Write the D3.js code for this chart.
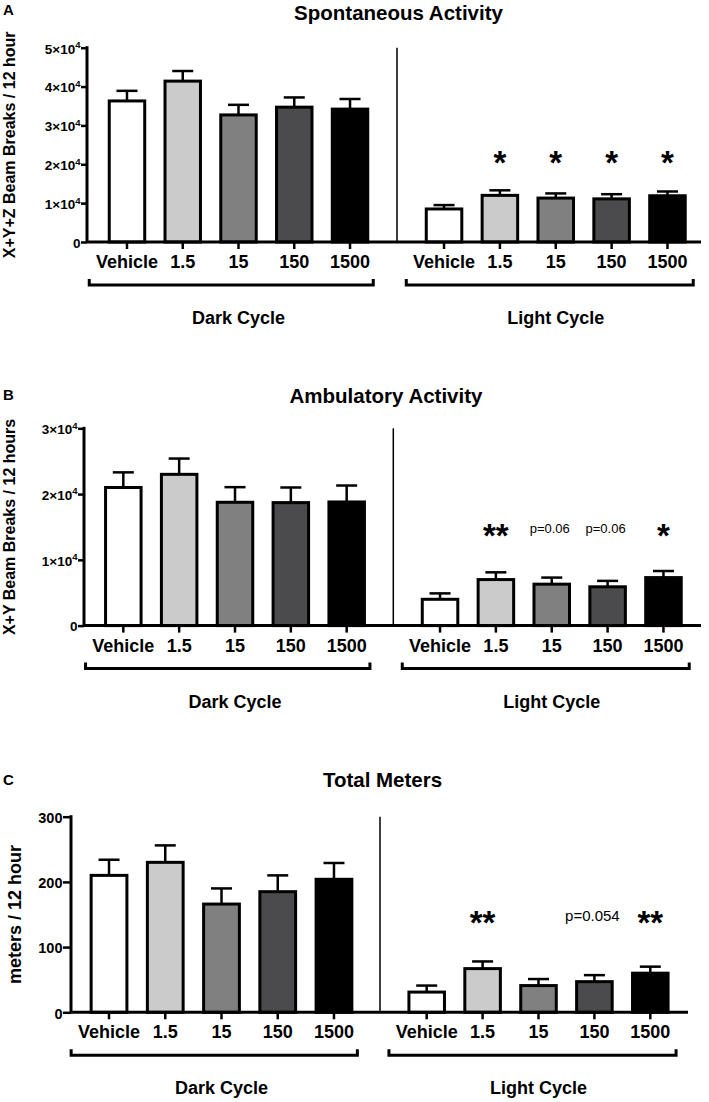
<!DOCTYPE html>
<html><head><meta charset="utf-8">
<script src="https://cdn.jsdelivr.net/npm/d3@7"></script>
<style>
body{margin:0;background:#fff;}
text{font-family:"Liberation Sans",Arial,Helvetica,sans-serif;fill:#000;}
</style></head><body>
<svg id="chart" width="709" height="1102"></svg>
<script>
// ---------- data ----------
const categories = ["Vehicle","1.5","15","150","1500"];
const cycles = ["Dark Cycle","Light Cycle"];
const panelLetters = ["A","B","C"];
const panelTitles = ["Spontaneous Activity","Ambulatory Activity","Total Meters"];
const yLabels = ["X+Y+Z Beam Breaks / 12 hour","X+Y Beam Breaks / 12 hours","meters / 12 hour"];

const spontDark = [36300,41400,32700,34700,34200];
const spontDarkSem = [2600,2600,2600,2500,2600];
const spontLight = [8500,12000,11300,11100,11900];
const spontLightSem = [1000,1300,1200,1200,1100];
const spontSig = ["","*","*","*","*"];
const spontTicks = [0,10000,20000,30000,40000,50000];

const ambDark = [21000,23000,18750,18700,18800];
const ambDarkSem = [2300,2400,2300,2300,2500];
const ambLight = [4000,7000,6300,5900,7300];
const ambLightSem = [900,1100,1000,900,1000];
const ambSig = ["","**","p=0.06","p=0.06","*"];
const ambTicks = [0,10000,20000,30000];

const metersDark = [210,230,166,185,204];
const metersDarkSem = [24,26,24,25,25];
const metersLight = [31,67,41,47,60];
const metersLightSem = [10,11,10,10,10];
const metersSig = ["","**","","p=0.054","**"];
const metersTicks = [0,100,200,300];

const sigLevels = [22300,14800,149];

// ---------- styles / layout ----------
const fills = ["#ffffff","#cbcbcb","#808080","#4b4a4c","#000000"];

const panels = [
  {dark:spontDark, darkSem:spontDarkSem, light:spontLight, lightSem:spontLightSem, sig:spontSig, ticks:spontTicks, sci:true,
   yTop:47.7, y0:242, axisX:87, axisEnd:701, darkRange:[99.1,377.9], lightRange:[416.1,695.4], sep:397,
   titleX:398.5, titleY:20, letterY:15, tickFs:13.5, tickLen:6, ylabFs:16, ylabX:15, pFs:13},
  {dark:ambDark, darkSem:ambDarkSem, light:ambLight, lightSem:ambLightSem, sig:ambSig, ticks:ambTicks, sci:true,
   yTop:428.3, y0:625.6, axisX:84, axisEnd:701, darkRange:[95.4,374.6], lightRange:[412.1,691.4], sep:393.3,
   titleX:386, titleY:403, letterY:400, tickFs:13.5, tickLen:6, ylabFs:16, ylabX:15, pFs:13},
  {dark:metersDark, darkSem:metersDarkSem, light:metersLight, lightSem:metersLightSem, sig:metersSig, ticks:metersTicks, sci:false,
   yTop:816.7, y0:1012.3, axisX:71, axisEnd:688, darkRange:[80.9,362.1], lightRange:[398.75,678.25], sep:380,
   titleX:382.5, titleY:787, letterY:785, tickFs:14.5, tickLen:8, ylabFs:18, ylabX:20.5, pFs:15}
];

const svg = d3.select("#chart");

panels.forEach((p, pi) => {
  const g = svg.append("g");
  const y = d3.scaleLinear().domain([0, d3.max(p.ticks)]).range([p.y0, p.yTop]);
  const xs = [
    d3.scaleBand().domain(categories).range(p.darkRange).paddingInner(0.364).paddingOuter(0.182),
    d3.scaleBand().domain(categories).range(p.lightRange).paddingInner(0.364).paddingOuter(0.182)
  ];
  const groups = [
    {vals:p.dark, sem:p.darkSem, sig:null},
    {vals:p.light, sem:p.lightSem, sig:p.sig}
  ];

  groups.forEach((grp, gi) => {
    const x = xs[gi];
    const rows = categories.map((c,i)=>({c, v:grp.vals[i], s:grp.sem[i], fill:fills[i], sig:grp.sig?grp.sig[i]:""}));
    // error bars (upper only)
    g.selectAll(null).data(rows).enter().append("line")
      .attr("x1", d=>x(d.c)+x.bandwidth()/2).attr("x2", d=>x(d.c)+x.bandwidth()/2)
      .attr("y1", d=>y(d.v)).attr("y2", d=>y(d.v+d.s))
      .attr("stroke","#000").attr("stroke-width",2.5);
    g.selectAll(null).data(rows).enter().append("line")
      .attr("x1", d=>x(d.c)+x.bandwidth()/2-10.5).attr("x2", d=>x(d.c)+x.bandwidth()/2+10.5)
      .attr("y1", d=>y(d.v+d.s)).attr("y2", d=>y(d.v+d.s))
      .attr("stroke","#000").attr("stroke-width",2.5);
    // bars
    g.selectAll(null).data(rows).enter().append("rect")
      .attr("x", d=>x(d.c)).attr("width", x.bandwidth())
      .attr("y", d=>y(d.v)).attr("height", d=>y(0)-y(d.v))
      .attr("fill", d=>d.fill).attr("stroke","#000").attr("stroke-width",3);
    // significance
    rows.forEach(d=>{
      if(!d.sig) return;
      const cx = x(d.c)+x.bandwidth()/2;
      const yy = y(sigLevels[pi]);
      if(d.sig.startsWith("*")){
        g.append("text").attr("x",cx).attr("y",yy+19).attr("text-anchor","middle")
          .attr("font-size",33).attr("font-weight","bold").text(d.sig);
      } else {
        g.append("text").attr("x",cx-2).attr("y",yy+p.pFs*0.36).attr("text-anchor","middle")
          .attr("font-size",p.pFs).text(d.sig);
      }
    });
    // x ticks and labels
    const ax = d3.axisBottom(x).tickSize(7).tickSizeOuter(0).tickPadding(0);
    const axg = g.append("g").attr("transform",`translate(0,${p.y0})`).call(ax);
    axg.select(".domain").remove();
    axg.selectAll(".tick line").attr("stroke","#000").attr("stroke-width",2.5);
    axg.selectAll(".tick text").attr("y",26).attr("dy",null)
      .attr("font-size",18).attr("font-weight","bold")
      .attr("font-family",'"Liberation Sans",Arial,sans-serif').attr("fill","#000");
    // bracket
    const bx0 = x(categories[0]) - 20;
    const bx1 = x(categories[categories.length-1]) + x.bandwidth() + (gi===0?5.5:8);
    g.append("path")
      .attr("d", `M${bx0},${p.y0+37}V${p.y0+43}H${bx1}V${p.y0+37}`)
      .attr("fill","none").attr("stroke","#000").attr("stroke-width",3);
    const cx = (x(categories[0]) + x(categories[categories.length-1]) + x.bandwidth())/2;
    g.append("text").attr("x",cx).attr("y",p.y0+82).attr("text-anchor","middle")
      .attr("font-size",18).attr("font-weight","bold").text(cycles[gi]);
  });

  // x axis line
  g.append("line").attr("x1",p.axisX).attr("x2",p.axisEnd).attr("y1",p.y0).attr("y2",p.y0)
    .attr("stroke","#000").attr("stroke-width",3);
  // separator
  g.append("line").attr("x1",p.sep).attr("x2",p.sep).attr("y1",p.yTop).attr("y2",p.y0)
    .attr("stroke","#000").attr("stroke-width",1.5);

  // y axis
  const ay = d3.axisLeft(y).tickValues(p.ticks).tickSize(p.tickLen).tickSizeOuter(0).tickPadding(0.5).tickFormat(()=> "");
  const ayg = g.append("g").attr("transform",`translate(${p.axisX},0)`).call(ay);
  ayg.select(".domain").attr("stroke","#000").attr("stroke-width",3)
     .attr("d",`M0,${p.yTop-1.5}V${p.y0}`);
  ayg.selectAll(".tick line").attr("stroke","#000").attr("stroke-width",2.5);
  ayg.selectAll(".tick text").remove();
  ayg.selectAll(".tick").each(function(v){
    const t = d3.select(this).append("text")
      .attr("x",-p.tickLen-0.5).attr("y",p.tickFs*0.36+0.5).attr("text-anchor","end")
      .attr("font-size",p.tickFs).attr("font-weight","bold");
    if(p.sci && v!==0){
      t.append("tspan").text((v/10000)+"×10");
      t.append("tspan").attr("font-size",9.5).attr("dy",-5.5).text("4");
    } else {
      t.text(v);
    }
  });

  // y label
  g.append("text").attr("transform",`translate(${p.ylabX},${(p.yTop+p.y0)/2}) rotate(-90)`)
    .attr("text-anchor","middle").attr("font-size",p.ylabFs).attr("font-weight","bold").text(yLabels[pi]);

  // title & letter
  g.append("text").attr("x",p.titleX).attr("y",p.titleY).attr("text-anchor","middle")
    .attr("font-size",20.5).attr("font-weight","bold").text(panelTitles[pi]);
  g.append("text").attr("x",3).attr("y",p.letterY)
    .attr("font-size",15).attr("font-weight","bold").text(panelLetters[pi]);
});
</script>
</body></html>
